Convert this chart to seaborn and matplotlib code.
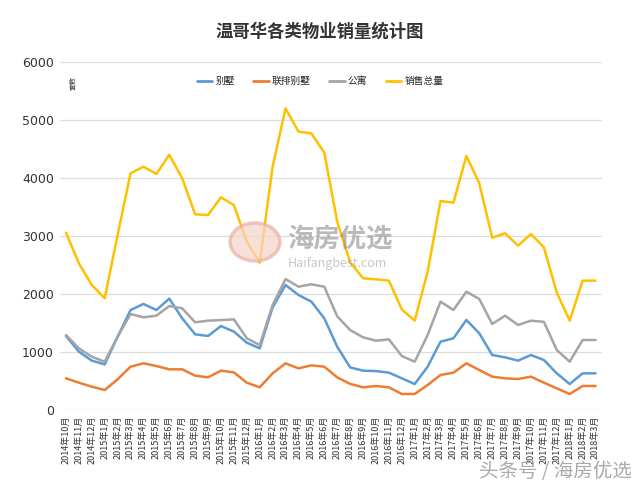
import matplotlib
matplotlib.use("Agg")
import matplotlib.pyplot as plt
import seaborn as sns
import pandas as pd
from matplotlib.patches import Circle
from matplotlib.lines import Line2D

sns.set_theme(style="white")
plt.rcParams['font.family'] = ['Noto Sans CJK SC', 'DejaVu Sans']

months = ["2014年10月", "2014年11月", "2014年12月",
          "2015年1月", "2015年2月", "2015年3月", "2015年4月", "2015年5月", "2015年6月",
          "2015年7月", "2015年8月", "2015年9月", "2015年10月", "2015年11月", "2015年12月",
          "2016年1月", "2016年2月", "2016年3月", "2016年4月", "2016年5月", "2016年6月",
          "2016年7月", "2016年8月", "2016年9月", "2016年10月", "2016年11月", "2016年12月",
          "2017年1月", "2017年2月", "2017年3月", "2017年4月", "2017年5月", "2017年6月",
          "2017年7月", "2017年8月", "2017年9月", "2017年10月", "2017年11月", "2017年12月",
          "2018年1月", "2018年2月", "2018年3月"]

detached = [1276, 1006, 851, 787, 1264, 1724, 1828, 1724, 1920, 1580, 1305, 1276, 1448, 1351,
            1161, 1063, 1770, 2155, 1983, 1868, 1580, 1092, 735, 678, 671, 644, 546, 448,
            747, 1178, 1236, 1552, 1322, 948, 908, 851, 948, 862, 632, 448, 632, 632]
townhouse = [546, 471, 402, 345, 529, 747, 805, 759, 701, 701, 592, 563, 678, 649,
             471, 391, 632, 805, 718, 770, 747, 563, 450, 391, 414, 391, 276, 276,
             431, 603, 644, 805, 690, 575, 546, 534, 575, 471, 374, 276, 414, 414]
condo = [1293, 1063, 919, 833, 1264, 1655, 1598, 1626, 1793, 1753, 1512, 1540, 1550, 1563,
         1236, 1120, 1810, 2258, 2126, 2167, 2126, 1615, 1379, 1253, 1195, 1218, 931, 833,
         1293, 1868, 1724, 2040, 1914, 1483, 1626, 1466, 1540, 1520, 1034, 833, 1207, 1207]
total = [3057, 2529, 2155, 1925, 3020, 4080, 4195, 4070, 4400, 3995, 3374, 3362, 3667, 3534,
         2902, 2540, 4195, 5200, 4798, 4770, 4437, 3247, 2550, 2270, 2253, 2230, 1736, 1540,
         2385, 3603, 3575, 4380, 3908, 2971, 3046, 2833, 3034, 2805, 2023, 1540, 2230, 2230]

series_names = ["别墅", "联排别墅", "公寓", "销售总量"]
colors = ["#5B9BD5", "#ED7D31", "#A5A5A5", "#FFC000"]

rows = []
for name, vals in zip(series_names, [detached, townhouse, condo, total]):
    for i, v in enumerate(vals):
        rows.append({"idx": i, "value": v, "type": name})
df = pd.DataFrame(rows)

fig = plt.figure(figsize=(6.4, 4.87), dpi=100)
ax = fig.add_axes([59.5/640, 1-410/487, (602-59.5)/640, (410-62)/487])

# center watermark (behind the lines)
circ = Circle((255/640, 1-242/487), 0.039, transform=fig.transFigure, facecolor="#F6D3CB",
              edgecolor="#EBB0A3", alpha=0.7, linewidth=2.5, zorder=0)
fig.patches.append(circ)
fig.text(287/640, 1-240/487, "海房优选", fontsize=19, color="#8C8C8C", alpha=0.6,
         ha='left', va='center', fontweight='bold', zorder=0)
fig.text(288/640, 1-264/487, "Haifangbest.com", fontsize=9, color="#9A9A9A", alpha=0.55,
         ha='left', va='center', zorder=0)
ax.patch.set_alpha(0)

sns.lineplot(data=df, x="idx", y="value", hue="type", hue_order=series_names,
             palette=colors, linewidth=1.8, ax=ax, legend=False)

ax.set_xlim(-0.5, len(months)-0.5)
ax.set_ylim(0, 6000)
ax.set_yticks(range(0, 6001, 1000))
ax.set_yticklabels([str(v) for v in range(0, 6001, 1000)], fontsize=9, color="#333333",
                   family=['DejaVu Sans'])
ax.set_xticks(range(len(months)))
ax.set_xticklabels(months, rotation=90, fontsize=6.5, color="#333333")
ax.tick_params(axis='both', length=0, pad=4)
ax.grid(axis='y', color="#DDDDDD", linewidth=0.9)
ax.grid(axis='x', visible=False)
for s in ax.spines.values():
    s.set_visible(False)
ax.set_xlabel("")
ax.set_ylabel("")

# y axis unit label
ax.text(0.018, 0.94, "套数", transform=ax.transAxes, rotation=90, fontsize=5,
        ha='left', va='center', color="#333333")

# legend
handles = [Line2D([0], [0], color=c, linewidth=2) for c in colors]
fig.legend(handles, series_names, loc='center', bbox_to_anchor=(0.5, 1-81/487), ncol=4,
           frameon=False, fontsize=7, handlelength=1.6, handletextpad=0.3, columnspacing=1.9)

fig.text(0.5, 1-32/487, "温哥华各类物业销量统计图", ha='center', va='center',
         fontsize=12.5, fontweight='bold', color="#333333")

fig.text(632/640, 1-472/487, "头条号 / 海房优选", fontsize=14, color="#AAAAAA",
         ha='right', va='center')

fig.savefig("out.png", dpi=100)
